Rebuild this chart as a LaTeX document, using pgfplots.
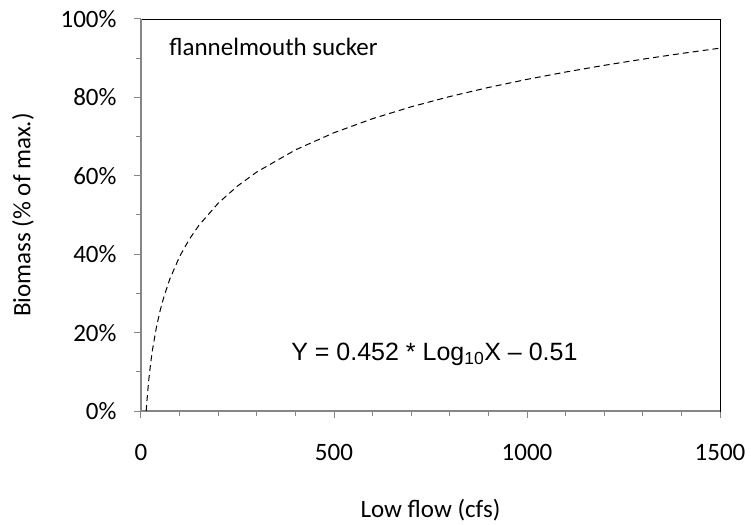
\documentclass[border=0pt]{standalone}
\usepackage{pgfplots}
\pgfplotsset{compat=1.18}
\usepackage{fontspec}
\setmainfont{Carlito}
\newfontfamily\arialfont{Liberation Sans}
\definecolor{axgray}{RGB}{134,134,134}
\begin{document}
\begin{tikzpicture}[x=1pt,y=1pt]
\begin{axis}[
  scale only axis,
  width=579pt, height=392pt,
  xmin=0, xmax=1500, ymin=0, ymax=100,
  xtick={0,500,1000,1500},
  minor xtick={100,200,300,400,600,700,800,900,1100,1200,1300,1400},
  ytick={0,20,40,60,80,100},
  yticklabels={0\%,20\%,40\%,60\%,80\%,100\%},
  minor ytick={10,30,50,70,90},
  xtick pos=bottom, ytick pos=left,
  tick align=outside,
  major tick length=7pt,
  minor tick length=4.5pt,
  tick style={axgray, line width=1pt},
  axis line style={black, line width=0.9pt},
  /pgf/number format/assume math mode=true,
  /pgf/number format/1000 sep={},
  ticklabel style={font=\fontsize{25}{28}\selectfont},
  xticklabel style={yshift=-23pt},
  yticklabel style={anchor=east, xshift=-14pt},
  every axis x label/.style={at={([yshift=-99pt]rel axis cs:0.5,0)}, anchor=center, font=\fontsize{25}{28}\selectfont},
  every axis y label/.style={at={([xshift=-118pt]rel axis cs:0,0.5)}, anchor=center, rotate=90, font=\fontsize{25}{28}\selectfont},
  xlabel={Low flow (cfs)},
  ylabel={Biomass (\% of max.)},
  clip=false,
]
\draw[axgray, line width=1.2pt] (rel axis cs:0,0) -- (rel axis cs:0,1);
\draw[axgray, line width=1.2pt] (rel axis cs:0,0) -- (rel axis cs:1,0);
\addplot[black, line width=1pt, dash pattern=on 6pt off 4pt] coordinates {
(13.4,0) (15,2.16) (20,7.81) (25,12.19) (30,15.77) (40,21.41) (50,25.79) (60,29.37)
(75,33.75) (100,39.4) (125,43.78) (150,47.36) (200,53.01) (250,57.39) (300,60.97)
(400,66.61) (500,70.99) (600,74.57) (700,77.6) (800,80.22) (900,82.53) (1000,84.6)
(1100,86.47) (1200,88.18) (1300,89.75) (1400,91.2) (1500,92.56)
};
\node[anchor=west, inner sep=0pt, font=\fontsize{25}{28}\selectfont] at (axis cs:73,93) {flannelmouth sucker};
\node[inner sep=0pt, font=\arialfont\fontsize{25}{28}\selectfont] at (axis cs:760,14.5) {Y = 0.452 * Log\textsubscript{10}X – 0.51};
\end{axis}
\path (current axis.south west) ++(-141pt,-110pt) (current axis.north east) ++(31pt,19pt);
\end{tikzpicture}
\end{document}
